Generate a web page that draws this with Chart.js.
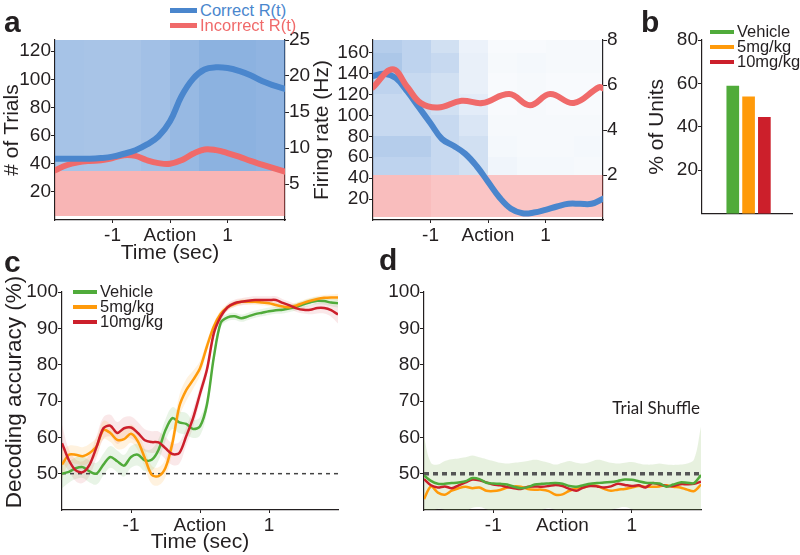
<!DOCTYPE html>
<html>
<head>
<meta charset="utf-8">
<script src="https://cdn.jsdelivr.net/npm/chart.js@4.4.1/dist/chart.umd.min.js"></script>
<style>
body { margin: 0; background: #fff; }
#fig { position: relative; width: 800px; height: 555px; overflow: hidden; font-family: 'Liberation Sans', Arial, sans-serif; color: #231f20; }
#fig canvas { position: absolute; }
.letter { position: absolute; font-weight: bold; font-size: 30px; line-height: 30px; }
.key { position: absolute; font-size: 16.5px; line-height: 16px; white-space: nowrap; }
.key i { display: inline-block; width: 24px; height: 4px; vertical-align: middle; margin-right: 3px; margin-top: -2px; }
.rot { position: absolute; white-space: nowrap; transform: translate(-50%, -50%) rotate(-90deg); }
</style>
</head>
<body>
<div id="fig">
  <canvas id="cA1" width="335" height="240" style="left:0;top:26px"></canvas>
  <canvas id="cA2" width="298" height="236" style="left:335px;top:26px"></canvas>
  <canvas id="cB" width="155" height="199" style="left:645px;top:26px"></canvas>
  <canvas id="cC" width="345" height="305" style="left:0;top:250px"></canvas>
  <canvas id="cD" width="330" height="305" style="left:380px;top:250px"></canvas>

  <div class="letter" style="left:4px;top:7px">a</div>
  <div class="letter" style="left:641px;top:7px">b</div>
  <div class="letter" style="left:4px;top:247px">c</div>
  <div class="letter" style="left:379px;top:245px">d</div>

  <div class="key" style="left:170px;top:2px;color:#4a86cd"><i style="width:27px;height:5px;background:#4a86cd"></i>Correct R(t)</div>
  <div class="key" style="left:170px;top:17px;color:#f06a6a"><i style="width:27px;height:5px;background:#f06a6a"></i>Incorrect R(t)</div>
  <div class="rot" style="left:321px;top:130px;font-size:21px">Firing rate (Hz)</div>

  <div class="key" style="left:710px;top:23px"><i style="background:#50ab3a"></i>Vehicle</div>
  <div class="key" style="left:710px;top:38px"><i style="background:#ff9a0a"></i>5mg/kg</div>
  <div class="key" style="left:710px;top:53px"><i style="background:#cc1f2b"></i>10mg/kg</div>

  <div class="rot" style="left:14px;top:392px;font-size:22.5px">Decoding accuracy (%)</div>
  <div class="key" style="left:73px;top:283px"><i style="background:#50ab3a"></i>Vehicle</div>
  <div class="key" style="left:73px;top:298px"><i style="background:#ff9a0a"></i>5mg/kg</div>
  <div class="key" style="left:73px;top:313px"><i style="background:#cc1f2b"></i>10mg/kg</div>

  <div style="position:absolute;right:100px;top:399px;font-family:Lato,sans-serif;font-size:17px;line-height:17px">Trial Shuffle</div>
</div>

<script>
// ---- tick labels ----
var timeTicks = [-1, 0, 1];
var trialTicksA = [20, 40, 60, 80, 100, 120];
var rateTicksA = [5, 10, 15, 20, 25];
var trialTicksB = [20, 40, 60, 80, 100, 120, 140, 160];
var rateTicksB = [2, 4, 6, 8];
var unitTicks = [20, 40, 60, 80];
var accTicks = [50, 60, 70, 80, 90, 100];

// ---- panel a, left unit: R(t) in Hz ----
var rateTimeA = [-2.0,-1.8,-1.6,-1.4,-1.2,-1.0,-0.8,-0.6,-0.4,-0.2,0.0,0.2,0.4,0.6,0.8,1.0,1.2,1.4,1.6,1.8,2.0];
var correctRateA = [8.5,8.5,8.5,8.5,8.6,8.8,9.2,9.7,10.5,11.6,13.7,17.2,19.6,20.9,21.2,21.1,20.7,20.1,19.3,18.7,18.2];
var incorrectRateA = [6.9,7.6,8.0,8.2,8.3,8.6,9.0,8.9,8.3,7.9,7.8,8.3,9.2,9.8,9.7,9.3,8.8,8.2,7.7,7.2,6.7];

// ---- panel a, right unit ----
var rateTimeB = [-2.0,-1.8,-1.6,-1.4,-1.2,-1.0,-0.8,-0.6,-0.4,-0.2,0.0,0.2,0.4,0.6,0.8,1.0,1.2,1.4,1.6,1.8,2.0];
var correctRateB = [6.4,6.5,6.3,5.7,5.0,4.3,3.6,3.3,2.95,2.4,1.7,1.0,0.5,0.3,0.33,0.45,0.6,0.72,0.72,0.72,0.95];
var incorrectTimeB = [-2.0,-1.66,-1.4,-1.17,-0.87,-0.46,-0.1,0.37,0.73,1.08,1.49,1.93,2.0];
var incorrectRateB = [5.9,6.7,5.9,5.2,5.0,5.3,5.2,5.6,5.1,5.6,5.2,5.9,5.85];

// ---- raster density (fraction of bin covered by spikes) ----
var rasterBins = [-2,-1.5,-1,-0.5,0,0.5,1,1.5,2];
var correctRowsA = [35,128];
var correctDensityA = [
  [0.48,0.47,0.47,0.50,0.56,0.62,0.62,0.60]
];
var incorrectRowsA = [3,35];
var incorrectDensityA = [
  [0.45,0.45,0.45,0.45,0.45,0.45,0.45,0.45]
];
var correctRowsB = [43,60,80,100,120,140,160,172];
var correctDensityB = [
  [0.35,0.35,0.30,0.25,0.08,0.06,0.06,0.05],
  [0.40,0.40,0.30,0.25,0.06,0.05,0.05,0.06],
  [0.30,0.30,0.30,0.20,0.05,0.05,0.05,0.05],
  [0.30,0.30,0.25,0.15,0.04,0.05,0.04,0.04],
  [0.35,0.30,0.25,0.12,0.04,0.05,0.04,0.04],
  [0.45,0.35,0.30,0.12,0.05,0.06,0.05,0.05],
  [0.40,0.35,0.25,0.10,0.04,0.04,0.05,0.05]
];
var incorrectRowsB = [3,43];
var incorrectDensityB = [
  [0.40,0.40,0.35,0.35,0.35,0.35,0.35,0.35]
];

// ---- panel b ----
var groups = ['Vehicle', '5mg/kg', '10mg/kg'];
var groupPos = [1, 2, 3];
var unitPercent = [58.8, 53.8, 44.4];

// ---- panel c: decoding accuracy (%) ----
var decodeTime = [-2.0,-1.9,-1.8,-1.7,-1.6,-1.5,-1.4,-1.3,-1.2,-1.1,-1.0,-0.9,-0.8,-0.7,-0.6,-0.5,-0.4,-0.3,-0.2,-0.1,0.0,0.1,0.2,0.3,0.4,0.5,0.6,0.7,0.8,0.9,1.0,1.1,1.2,1.3,1.4,1.5,1.6,1.7,1.8,1.9,2.0];
var vehicleAcc = [50,50.5,51.5,51.8,50.6,50,52.5,54.6,53.4,52.2,54.6,55.2,53.7,53.8,56.6,62,65.3,64.1,63.7,62.3,63,69,82,91.5,93,93.3,92.8,93.3,93.9,94.3,94.7,95,95.1,95.5,96,96.6,97.2,97.6,97.5,97.1,96.9];
var mg5Acc = [52.5,55.2,55.2,54.8,55.7,57.5,62,61.2,59.3,59.5,61,58.9,54.3,49.7,49.3,51.6,58.4,68.5,73,75.8,79,85,90.5,94,95.8,96.7,97.3,97.3,97.3,97.1,96.9,96.4,96,95.8,96.3,97,97.6,98.1,98.4,98.5,98.5];
var mg10Acc = [58.4,53.7,50.9,50.4,52.5,57.3,62.5,63.2,61.2,62.5,62.7,61.2,59.2,58.7,58.6,57,55.4,55.7,60.3,65.3,72,78.6,88.6,93.2,95.8,96.9,97.3,97.6,97.8,97.8,97.8,97.8,97,96.3,95.5,95.1,95.1,95.6,95.6,95,93.8];
var vehicleSem = [4,3,3,3,3,3,3,3,3,3,3,3,3,3,3,3,3,3,3,2.5,2.5,2,1.5,1.2,1,1,1,1,1,1,1,1,1,1,1,1,1,1,1,1,1.2];
var mg5Sem = [4,2.5,2.5,2.5,2.5,2.5,2.5,2.5,2.5,2.5,2.5,2.5,2.5,2.5,2.5,2.5,2.5,3,3,2.5,2,1.5,1,1,0.8,0.8,0.8,0.8,0.8,0.8,0.8,0.8,0.8,0.8,0.8,0.8,0.8,0.8,0.8,0.8,1];
var mg10Sem = [5,3,3,3,3,3,3,3,3,3,3,3,3,3,3,3,3,3,2.5,2.5,2,1.5,1.2,1,1,1,1,1,1,1,1,1,1,1,1,1,1.2,1.5,1.5,1.8,2.5];
var chanceLevel = 50;

// ---- panel d: trial shuffle ----
var shuffleVehicle = [49.5,48,47.2,47.2,47.4,47.6,47.9,48.8,48.5,47.5,47.3,47.2,47,46.4,46,46.3,47,47.2,47.3,47.4,47.2,46.6,46.4,46.8,47.2,47.4,47.6,47.7,48,48.4,48.3,47.9,47.5,47.4,47.3,46.4,47,47.6,47.5,47.4,49.6];
var shuffleMg5 = [43,46.5,44.8,44.2,45.3,46,46.4,46,46.2,45.3,45.2,45.5,46.2,46.5,46.4,45.8,45.6,45.6,45.2,44.2,44.3,45.3,46,46.2,46.8,46.6,45.8,45.3,45.6,45.8,46.2,46.6,46.4,46.4,46.5,46.8,46.4,46.2,45.6,45.2,47];
var shuffleMg10 = [48.5,46.8,46.2,46.5,46,46.8,47.6,48.4,48.2,47.6,47,46.8,46.3,46,45.8,46.4,46.5,46.4,46.6,46.9,46.6,45.8,45.3,46.2,46.6,46.5,46.2,46.5,47.2,46.9,46.6,46.8,46.2,47.4,47,46.6,46.6,47.1,47.1,47.2,47.8];
var shuffleUpper = [60,53,52.5,53.5,54,54.2,54.5,55,54.5,54,53.5,53,52.8,53,53.2,53.5,53.8,53.5,53,52.5,53,53.5,53,52.8,53.2,53.8,53.5,53,52.8,53,53.2,52.8,52.5,52.5,52.8,52.5,52.4,52.5,52.8,54,63];
var shuffleLower = [39,39.5,40.3,40,39.5,39,39.5,40.6,40.8,40.2,39.5,39,39.5,40,39.5,39,39.5,40,40.5,40,39.5,39,39.5,40,39.5,39,39.5,40,40.5,40.8,40.2,39.5,39,39.5,40,39.5,39,39.5,40,39.5,39];

var ink = '#231f20';
var blue = '#4a86cd', pink = '#f06a6a';
var green = '#50ab3a', orange = '#ff9a0a', red = '#cc1f2b';

Chart.defaults.font.family = "'Liberation Sans', Arial, sans-serif";
Chart.defaults.color = ink;

function pts(xs, ys) {
  return xs.map(function (x, i) { return { x: x, y: ys[i] }; });
}
function offset(ys, d, sign) {
  return ys.map(function (y, i) { return y + sign * d[i]; });
}

function timeAxis(h, title) {
  return {
    type: 'linear', min: -2, max: 2,
    afterBuildTicks: function (s) { s.ticks = timeTicks.map(function (v) { return { value: v }; }); },
    afterFit: function (s) { s.height = h; },
    ticks: { font: { size: 19 }, color: ink, padding: 1, maxRotation: 0, autoSkip: false,
      callback: function (v) { return v === 0 ? 'Action' : String(v); } },
    grid: { drawOnChartArea: false, tickLength: 3, tickColor: ink },
    border: { color: ink, width: 1.2 },
    title: { display: !!title, text: title, font: { size: 21 }, color: ink, padding: 0 }
  };
}

function valueAxis(pos, min, max, list, w, title) {
  return {
    type: 'linear', position: pos, min: min, max: max,
    afterBuildTicks: function (s) { s.ticks = list.map(function (v) { return { value: v }; }); },
    afterFit: function (s) { s.width = w; },
    ticks: { font: { size: 19 }, color: ink, padding: 0, autoSkip: false },
    grid: { drawOnChartArea: false, tickLength: 4, tickColor: ink },
    border: { color: ink, width: 1.2 },
    title: { display: !!title, text: title, font: { size: 21 }, color: ink, padding: 0 }
  };
}

function baseOptions(padding, scales) {
  return {
    responsive: false, animation: false, devicePixelRatio: 1, events: [],
    layout: { padding: padding },
    plugins: { legend: { display: false }, tooltip: { enabled: false } },
    scales: scales
  };
}

// draws the spike raster as density cells, through the chart's x and y scales
function rasterPlugin(blocks) {
  return {
    id: 'raster',
    beforeDatasetsDraw: function (chart) {
      var xs = chart.scales.x, ys = chart.scales.y, ctx = chart.ctx;
      ctx.save();
      blocks.forEach(function (b) {
        for (var r = 0; r < b.rows.length - 1; r++) {
          for (var c = 0; c < rasterBins.length - 1; c++) {
            var x0 = Math.round(xs.getPixelForValue(rasterBins[c]));
            var x1 = Math.round(xs.getPixelForValue(rasterBins[c + 1]));
            var y0 = Math.round(ys.getPixelForValue(b.rows[r + 1]));
            var y1 = Math.round(ys.getPixelForValue(b.rows[r]));
            ctx.fillStyle = 'rgba(' + b.rgb + ',' + b.density[r][c] + ')';
            ctx.fillRect(x0, y0, x1 - x0, y1 - y0);
          }
        }
      });
      ctx.restore();
    }
  };
}

function rateLine(xs, ys, color) {
  return { data: pts(xs, ys), yAxisID: 'y2', showLine: true, borderColor: color, borderWidth: 6,
    pointRadius: 0, tension: 0.4, borderCapStyle: 'round' };
}

// panel a, left
new Chart(document.getElementById('cA1'), {
  type: 'scatter',
  data: { datasets: [
    rateLine(rateTimeA, correctRateA, blue),
    rateLine(rateTimeA, incorrectRateA, pink)
  ] },
  options: baseOptions({ top: 14, left: 0, right: 0, bottom: 0 }, {
    x: timeAxis(46, 'Time (sec)'),
    y: valueAxis('left', 0, 128, trialTicksA, 55, '# of Trials'),
    y2: valueAxis('right', 0, 25, rateTicksA, 50, '')
  }),
  plugins: [rasterPlugin([
    { rows: correctRowsA, density: correctDensityA, rgb: '70,130,205' },
    { rows: incorrectRowsA, density: incorrectDensityA, rgb: '240,90,90' }
  ])]
});

// panel a, right
new Chart(document.getElementById('cA2'), {
  type: 'scatter',
  data: { datasets: [
    rateLine(incorrectTimeB, incorrectRateB, pink),
    rateLine(rateTimeB, correctRateB, blue)
  ] },
  options: baseOptions({ top: 14, left: 0, right: 0, bottom: 0 }, {
    x: timeAxis(42, ''),
    y: valueAxis('left', 0, 172, trialTicksB, 38, ''),
    y2: valueAxis('right', 0, 8, rateTicksB, 30, '')
  }),
  plugins: [rasterPlugin([
    { rows: correctRowsB, density: correctDensityB, rgb: '70,130,205' },
    { rows: incorrectRowsB, density: incorrectDensityB, rgb: '240,90,90' }
  ])]
});

// panel b
new Chart(document.getElementById('cB'), {
  type: 'bar',
  data: { datasets: [{
    data: pts(groupPos, unitPercent),
    backgroundColor: [green, orange, red],
    barThickness: 12
  }] },
  options: baseOptions({ top: 14, left: 0, right: 8, bottom: 0 }, {
    x: { type: 'linear', min: 0, max: 3.8, afterFit: function (s) { s.height = 4; },
      ticks: { display: false }, grid: { display: false }, border: { color: ink, width: 1.2 } },
    y: valueAxis('left', 0, 80, unitTicks, 57, '% of Units')
  })
});

function bandSets(ys, sem, rgba) {
  return [
    { data: pts(decodeTime, offset(ys, sem, 1)), showLine: true, pointRadius: 0, borderWidth: 0,
      backgroundColor: rgba, fill: '+1', tension: 0.4, order: 5 },
    { data: pts(decodeTime, offset(ys, sem, -1)), showLine: true, pointRadius: 0, borderWidth: 0,
      fill: false, tension: 0.4, order: 5 }
  ];
}
function accLine(ys, color, w) {
  return { data: pts(decodeTime, ys), showLine: true, pointRadius: 0, borderColor: color,
    borderWidth: w, tension: 0.3, fill: false, order: 0 };
}
function chanceLine(color, w, dash) {
  return { data: pts([-2, 2], [chanceLevel, chanceLevel]), showLine: true, pointRadius: 0,
    borderColor: color, borderWidth: w, borderDash: dash, fill: false, order: 2 };
}

// panel c
new Chart(document.getElementById('cC'), {
  type: 'scatter',
  data: { datasets: [].concat(
    bandSets(vehicleAcc, vehicleSem, 'rgba(80,171,58,0.13)'),
    bandSets(mg5Acc, mg5Sem, 'rgba(255,154,10,0.13)'),
    bandSets(mg10Acc, mg10Sem, 'rgba(204,31,43,0.10)'),
    [chanceLine('#444', 1.5, [4, 4]),
     accLine(mg10Acc, red, 2.5),
     accLine(mg5Acc, orange, 2.5),
     accLine(vehicleAcc, green, 2.5)]
  ) },
  options: baseOptions({ top: 42, left: 0, right: 7, bottom: 0 }, {
    x: timeAxis(45, 'Time (sec)'),
    y: valueAxis('left', 40, 100, accTicks, 62, '')
  })
});

// panel d
new Chart(document.getElementById('cD'), {
  type: 'scatter',
  data: { datasets: [
    { data: pts(decodeTime, shuffleUpper), showLine: true, pointRadius: 0, borderWidth: 0,
      backgroundColor: 'rgba(120,180,80,0.18)', fill: '+1', tension: 0.4, order: 5 },
    { data: pts(decodeTime, shuffleLower), showLine: true, pointRadius: 0, borderWidth: 0,
      fill: false, tension: 0.4, order: 5 },
    chanceLine('#555', 3.5, [5, 4]),
    accLine(shuffleVehicle, green, 2.5),
    accLine(shuffleMg10, red, 2.5),
    accLine(shuffleMg5, orange, 2.5)
  ] },
  options: baseOptions({ top: 42, left: 0, right: 9, bottom: 0 }, {
    x: timeAxis(45, ''),
    y: valueAxis('left', 40, 100, accTicks, 44, '')
  })
});
</script>
</body>
</html>
